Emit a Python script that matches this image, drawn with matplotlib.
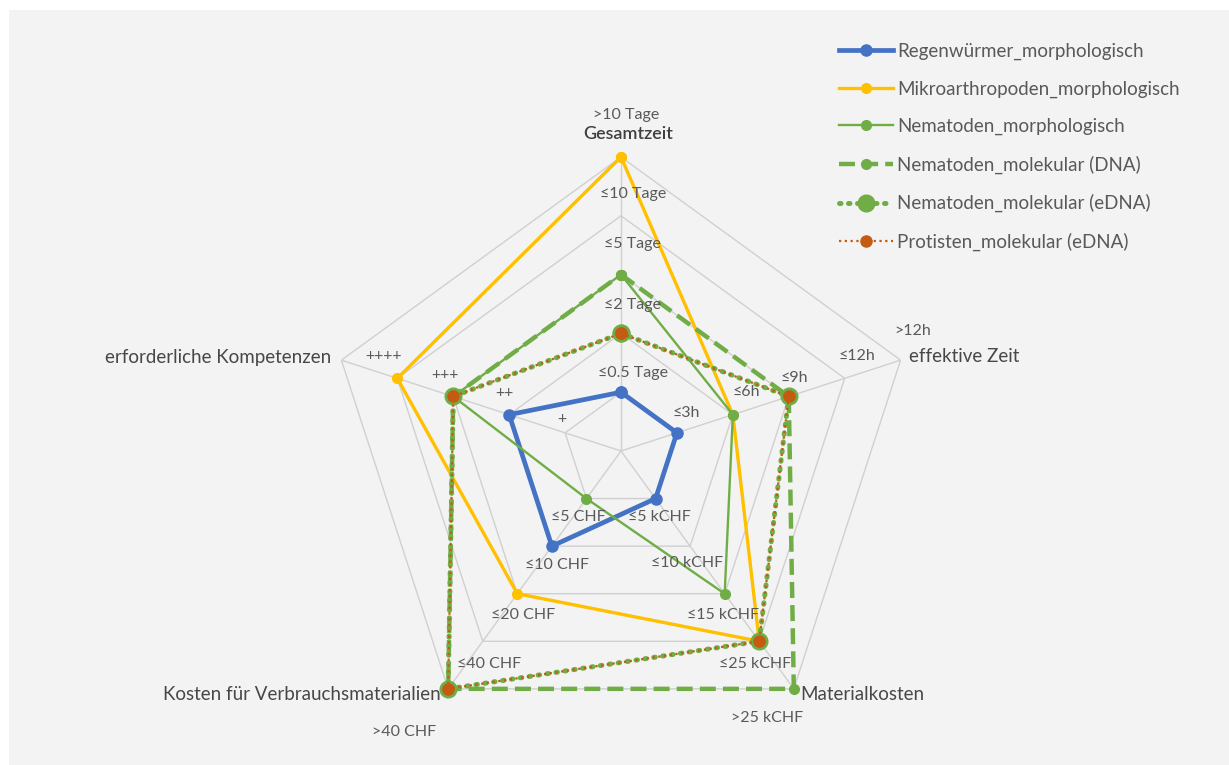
import numpy as np
import matplotlib.pyplot as plt
from matplotlib.lines import Line2D
from matplotlib.patches import Rectangle

# Kategorien (im Uhrzeigersinn ab oben)
kategorien = ['Gesamtzeit', 'effektive Zeit', 'Materialkosten',
              'Kosten für Verbrauchsmaterialien', 'erforderliche Kompetenzen']

# Werte 1..5 je Kategorie
regenwuermer = [1, 1, 1, 2, 2]
mikroarthropoden = [5, 2, 4, 3, 4]
nematoden_morph = [3, 2, 3, 1, 3]
nematoden_dna = [3, 3, 5, 5, 3]
nematoden_edna = [2, 3, 4, 5, 3]
protisten_edna = [2, 3, 4, 5, 3]

# Stufenbeschriftungen je Achse (Stufe 1..5)
stufen_gesamtzeit = ['≤0.5 Tage', '≤2 Tage', '≤5 Tage', '≤10 Tage', '>10 Tage']
stufen_eff_zeit = ['≤3h', '≤6h', '≤9h', '≤12h', '>12h']
stufen_material = ['≤5 kCHF', '≤10 kCHF', '≤15 kCHF', '≤25 kCHF', '>25 kCHF']
stufen_verbrauch = ['≤5 CHF', '≤10 CHF', '≤20 CHF', '≤40 CHF', '>40 CHF']
stufen_kompetenz = ['+', '++', '+++', '++++']

W, H = 1229, 765
fig = plt.figure(figsize=(W / 100, H / 100), dpi=100, facecolor='white')
fig.patches.append(Rectangle((9 / W, 0), 1, 1 - 10 / H, transform=fig.transFigure,
                             facecolor='#f3f3f3', edgecolor='none', zorder=-10))

cx, cy, R = 621, 451, 294
ax = fig.add_axes([(cx - R) / W, (H - cy - R) / H, 2 * R / W, 2 * R / H],
                  projection='polar')
ax.set_facecolor('none')
ax.set_theta_offset(np.pi / 2)
ax.set_theta_direction(-1)
ax.set_ylim(0, 5)
ax.grid(False)
ax.spines['polar'].set_visible(False)
ax.set_xticks([])
ax.set_yticks([])

n = len(kategorien)
winkel = np.linspace(0, 2 * np.pi, n, endpoint=False)
wz = np.append(winkel, winkel[0])

# Fuenfeck-Gitter und Speichen
gitter = '#d0d0d0'
for k in range(1, 6):
    ax.plot(wz, [k] * (n + 1), color=gitter, lw=1.0, zorder=1)
for w in winkel:
    ax.plot([w, w], [0, 5], color=gitter, lw=1.0, zorder=1)


def zu(werte):
    return np.append(werte, werte[0])


blau, gelb, gruen, braun = '#4472c4', '#ffc000', '#70ad47', '#c55a11'

serien = [
    ('Regenwürmer_morphologisch', regenwuermer,
     dict(color=blau, lw=3.4, marker='o', ms=8)),
    ('Mikroarthropoden_morphologisch', mikroarthropoden,
     dict(color=gelb, lw=2.4, marker='o', ms=7)),
    ('Nematoden_morphologisch', nematoden_morph,
     dict(color=gruen, lw=1.7, marker='o', ms=7)),
    ('Nematoden_molekular (DNA)', nematoden_dna,
     dict(color=gruen, lw=3.2, ls=(0, (3.6, 1.6)), marker='o', ms=7)),
    ('Nematoden_molekular (eDNA)', nematoden_edna,
     dict(color=gruen, lw=3.6, ls=(0, (0.3, 1.5)), dash_capstyle='round',
          marker='o', ms=12)),
    ('Protisten_molekular (eDNA)', protisten_edna,
     dict(color=braun, lw=1.6, ls=(0, (1, 1.6)), marker='o', ms=8)),
]

griffe = []
for i, (name, werte, stil) in enumerate(serien):
    ax.plot(wz, zu(werte), zorder=3 + i, clip_on=False, **stil)
    griffe.append(Line2D([], [], label=name, **stil))

textfarbe = '#595959'
plt.rcParams['font.family'] = ['Lato', 'DejaVu Sans']


def txt(x, y, s, size=11.5, color=textfarbe, **kw):
    fig.text(x / W, 1 - y / H, s, fontsize=size, color=color,
             ha=kw.pop('ha', 'center'), va='center', **kw)


# Kategorienamen
kat_farbe = '#474747'
txt(628, 134, kategorien[0], size=13, color='#3f3f3f', fontweight='semibold')
txt(909, 357, kategorien[1], size=13.5, color=kat_farbe, ha='left')
txt(800, 695, kategorien[2], size=13.5, color=kat_farbe, ha='left')
txt(441, 694, kategorien[3], size=13.5, color=kat_farbe, ha='right')
txt(331, 357, kategorien[4], size=13.5, color=kat_farbe, ha='right')

# Stufenbeschriftungen
for (x, y), s in zip([(633, 373), (632, 305), (632, 244), (633, 194), (626, 115)],
                     stufen_gesamtzeit):
    txt(x, y, s)
for (x, y), s in zip([(686, 413), (746, 392), (794, 378), (857, 356), (913, 331)],
                     stufen_eff_zeit):
    txt(x, y, s)
for (x, y), s in zip([(659, 517), (687, 563), (723, 615), (755, 664), (767, 718)],
                     stufen_material):
    txt(x, y, s)
for (x, y), s in zip([(578, 517), (557, 565), (523, 615), (489, 664), (404, 732)],
                     stufen_verbrauch):
    txt(x, y, s)
for (x, y), s in zip([(562, 419), (504, 393), (445, 375), (384, 356)],
                     stufen_kompetenz):
    txt(x, y, s)

leg = fig.legend(handles=griffe, loc='upper left', bbox_to_anchor=(822 / W, 1 - 26 / H),
                 frameon=False, fontsize=13.5, handlelength=2.9, handletextpad=0.2,
                 labelspacing=1.08, numpoints=1)
for t in leg.get_texts():
    t.set_color(textfarbe)

fig.savefig('out.png', dpi=100, facecolor=fig.get_facecolor())
